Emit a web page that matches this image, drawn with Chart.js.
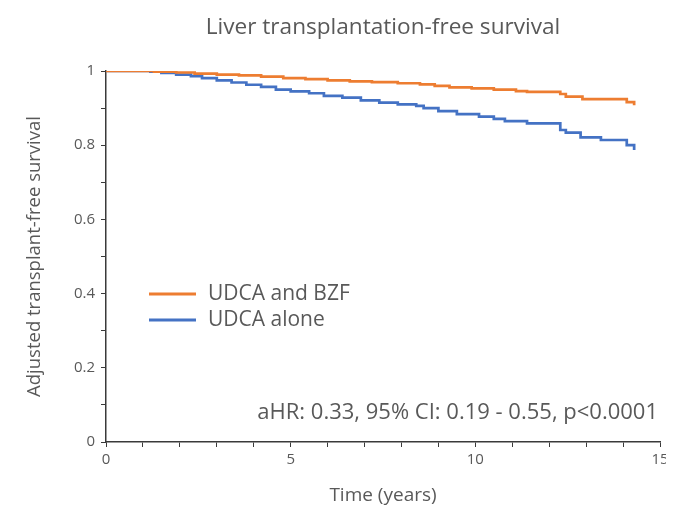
<!DOCTYPE html>
<html>
<head>
<meta charset="utf-8">
<script src="https://cdn.jsdelivr.net/npm/chart.js@4"></script>
<style>
html,body{margin:0;padding:0;background:#fff;}
#wrap{width:666px;height:525px;overflow:hidden;background:#fff;}
</style>
</head>
<body>
<div id="wrap"><canvas id="c" width="679" height="525"></canvas></div>
<script>
const titleText = "Liver transplantation-free survival";
const xTitle = "Time (years)";
const yTitle = "Adjusted transplant-free survival";
const seriesNames = ["UDCA and BZF", "UDCA alone"];
const annotationText = "aHR: 0.33, 95% CI: 0.19 - 0.55, p<0.0001";

// Kaplan-Meier steps: time (years) and survival
const bzfTimes  = [0, 1.3, 1.9, 2.4, 3.0, 3.6, 4.2, 4.8, 5.4, 6.0, 6.6, 7.2, 7.9, 8.5, 8.9, 9.3, 9.9, 10.5, 11.1, 11.4, 12.3, 12.45, 12.9, 14.1, 14.3];
const bzfSurv   = [1, 0.998, 0.996, 0.993, 0.990, 0.988, 0.985, 0.981, 0.978, 0.975, 0.972, 0.970, 0.967, 0.964, 0.960, 0.956, 0.953, 0.950, 0.946, 0.944, 0.938, 0.931, 0.924, 0.916, 0.908];
const aloneTimes = [0, 1.2, 1.5, 1.9, 2.3, 2.6, 3.0, 3.4, 3.8, 4.2, 4.6, 5.0, 5.5, 5.9, 6.4, 6.9, 7.4, 7.9, 8.4, 8.6, 9.0, 9.5, 10.1, 10.5, 10.8, 11.4, 12.3, 12.45, 12.85, 13.4, 14.1, 14.3];
const aloneSurv  = [1, 0.998, 0.995, 0.990, 0.986, 0.981, 0.975, 0.969, 0.963, 0.957, 0.950, 0.945, 0.940, 0.933, 0.928, 0.921, 0.915, 0.910, 0.906, 0.900, 0.892, 0.884, 0.877, 0.871, 0.865, 0.859, 0.841, 0.834, 0.821, 0.814, 0.800, 0.787];

const xMajorTicks = [0, 5, 10, 15];
const yMajorTicks = [0, 0.2, 0.4, 0.6, 0.8, 1];

const FONT = "'Open Sans'";
const GRAY = "#595959";
const AXIS = "#3a3a3a";

function pts(ts, vs){ return ts.map((t,i)=>({x:t, y:vs[i]})); }

const overlay = {
  id: 'overlay',
  afterDraw(chart){
    const ctx = chart.ctx;
    const ds = chart.data.datasets;
    const ca = chart.chartArea;
    ctx.save();
    ctx.fillStyle = GRAY;
    ctx.textBaseline = "middle";
    // title centered over plot area
    ctx.font = "22.6px " + FONT;
    ctx.textAlign = "center";
    ctx.fillText(titleText, (ca.left + ca.right) / 2, 28);
    // legend
    ctx.textAlign = "left";
    ctx.font = "21px " + FONT;
    const lx = 149, ly = 294, gap = 26;
    ds.forEach((d,i)=>{
      ctx.strokeStyle = d.borderColor;
      ctx.lineWidth = 3;
      ctx.beginPath();
      ctx.moveTo(lx, ly + i*gap);
      ctx.lineTo(lx + 47, ly + i*gap);
      ctx.stroke();
      ctx.fillText(d.label, lx + 59, ly + i*gap);
    });
    ctx.textAlign = "right";
    ctx.font = "22px " + FONT;
    ctx.fillText(annotationText, 658, 413);
    ctx.restore();
  }
};

new Chart(document.getElementById('c'), {
  type: 'line',
  data: {
    datasets: [
      {label: seriesNames[0], data: pts(bzfTimes, bzfSurv), borderColor: '#ED7D31', borderWidth: 2.7, pointRadius: 0, stepped: true, fill: false},
      {label: seriesNames[1], data: pts(aloneTimes, aloneSurv), borderColor: '#4472C4', borderWidth: 2.7, pointRadius: 0, stepped: true, fill: false}
    ]
  },
  plugins: [overlay],
  options: {
    responsive: false,
    animation: false,
    layout: {padding: {left: 0, right: 19, top: 71, bottom: 0}},
    plugins: {
      legend: {display: false},
      tooltip: {enabled: false},
      title: {display: false}
    },
    scales: {
      x: {
        type: 'linear', min: 0, max: 15,
        border: {color: AXIS, width: 1.5},
        grid: {drawOnChartArea: false, drawTicks: true, tickLength: 5, color: AXIS},
        ticks: {stepSize: 1, color: GRAY, font: {family: FONT, size: 15}, padding: 4, maxRotation: 0,
          callback: v => xMajorTicks.includes(v) ? String(v) : ''},
        title: {display: true, text: xTitle, color: GRAY, font: {family: FONT, size: 19}, padding: {top: 0, bottom: 18}},
        afterFit: s => { s.height = 83; }
      },
      y: {
        min: 0, max: 1,
        border: {color: AXIS, width: 1.5},
        grid: {drawOnChartArea: false, drawTicks: true, tickLength: 5, color: AXIS},
        ticks: {stepSize: 0.1, color: GRAY, font: {family: FONT, size: 15}, padding: 6,
          callback: v => { const r = Math.round(v*10)/10; return yMajorTicks.includes(r) ? String(r) : ''; }},
        title: {display: true, text: yTitle, color: GRAY, font: {family: FONT, size: 18.5}, padding: {top: 24, bottom: 0}},
        afterFit: s => { s.width = 106; }
      }
    }
  }
});
</script>
</body>
</html>
